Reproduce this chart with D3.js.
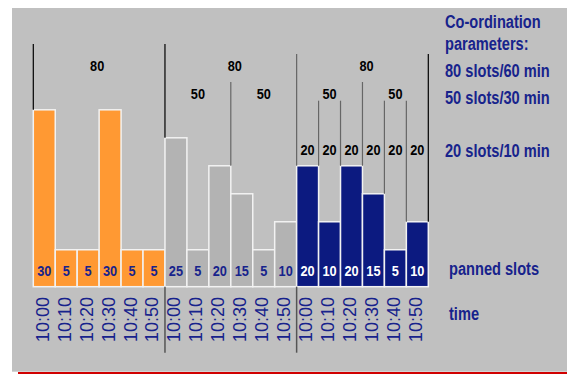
<!DOCTYPE html>
<html><head><meta charset="utf-8">
<script src="https://cdn.jsdelivr.net/npm/d3@7"></script>
<style>html,body{margin:0;padding:0;background:#fff;} svg{display:block}</style>
</head><body>
<svg id="c" width="567" height="374"></svg>
<script>
// ---- data ----
const times = ["10:00","10:10","10:20","10:30","10:40","10:50"];
const slotsA = [30,5,5,30,5,5];
const slotsB = [25,5,20,15,5,10];
const slotsC = [20,10,20,15,5,10];
const limit60 = "80", limit30 = "50", limit10 = "20";
const legendLines = ["Co-ordination","parameters:","80 slots/60 min","50 slots/30 min","20 slots/10 min"];
const rowLabels = ["panned slots","time"];

// ---- setup ----
const svg = d3.select("#c");
const FONT = "Arial, 'Liberation Sans', sans-serif";
const NAVY = "#17238c";
const groups = [slotsA, slotsB, slotsC];
const fills = ["#ff9933","#b3b3b3","#0c1a80"];
const labelFill = [NAVY, NAVY, "#ffffff"];
const data = groups.flatMap((vals,g)=>vals.map((v,i)=>({g,i,v,time:times[i],idx:g*6+i})));

svg.append("rect").attr("x",12).attr("y",8).attr("width",555).attr("height",363.7).attr("fill","#c0c0c0");
svg.append("rect").attr("x",18).attr("y",372).attr("width",549).attr("height",2.5).attr("fill","#d00000");

const x = d3.scaleBand().domain(d3.range(18)).range([33.3,428.3]).paddingInner(0);
const bw = x.bandwidth();
const y = d3.scaleLinear().domain([-1.6,30]).range([286.7,109.8]);
const base = y(-1.6);

// bars
svg.append("g").selectAll("rect").data(data).join("rect")
  .attr("x",d=>x(d.idx)).attr("y",d=>y(d.v))
  .attr("width",bw).attr("height",d=>base-y(d.v))
  .attr("fill",d=>fills[d.g]).attr("stroke","#f2f2f2").attr("stroke-width",1.5);

// window boundary lines
const bx = (g,k)=> x.range()[0] + (g*6+k)*bw;
const topAt = (g,k)=>{
  const tops=[];
  const li=g*6+k-1, ri=g*6+k;
  if(li>=0) tops.push(y(data[li].v));
  if(ri<18) tops.push(y(data[ri].v));
  return Math.min(...tops);
};
const markers = [
  {g:0,k:0,top:44,c:"#000"},{g:1,k:0,top:44,c:"#000"},
  {g:1,k:3,top:82,c:"#666"},
  {g:2,k:0,top:54,c:"#666"},{g:2,k:6,top:54,c:"#000"},
  {g:2,k:3,top:82,c:"#666"},
  {g:2,k:1,top:100.7,c:"#666"},{g:2,k:2,top:100.7,c:"#666"},
  {g:2,k:4,top:100.7,c:"#666"},{g:2,k:5,top:100.7,c:"#666"}
];
svg.append("g").selectAll("line").data(markers).join("line")
  .attr("x1",d=>bx(d.g,d.k)).attr("x2",d=>bx(d.g,d.k))
  .attr("y1",d=>d.top).attr("y2",d=>topAt(d.g,d.k))
  .attr("stroke",d=>d.c).attr("stroke-width",1.2);

// bottom separators
svg.append("g").selectAll("line").data([1,2]).join("line")
  .attr("x1",g=>bx(g,0)).attr("x2",g=>bx(g,0))
  .attr("y1",base).attr("y2",352.7)
  .attr("stroke","#555").attr("stroke-width",1.5);

// window labels
const wl = [];
[0,1,2].forEach(g=>wl.push({t:limit60, x:bx(g,3)+[-2,4,4][g], y:70.5}));
[1,2].forEach(g=>{wl.push({t:limit30,x:bx(g,1.5),y:98.5}); wl.push({t:limit30,x:bx(g,4.5),y:98.5});});
d3.range(6).forEach(k=>wl.push({t:limit10,x:bx(2,k+0.5),y:154.5}));
svg.append("g").selectAll("text").data(wl).join("text")
  .attr("transform",d=>`translate(${d.x},${d.y}) scale(0.85,1)`).attr("text-anchor","middle")
  .attr("font-family",FONT).attr("font-weight","bold").attr("font-size",15).attr("fill","#000")
  .text(d=>d.t);

// bar value labels
svg.append("g").selectAll("text").data(data).join("text")
  .attr("transform",d=>`translate(${x(d.idx)+bw/2},275.5) scale(0.88,1)`).attr("text-anchor","middle")
  .attr("font-family",FONT).attr("font-weight","bold").attr("font-size",14.5)
  .attr("fill",d=>labelFill[d.g]).text(d=>d.v);

// time labels
svg.append("g").selectAll("text").data(data).join("text")
  .attr("transform",d=>`translate(${x(d.idx)+bw/2+4.5},297) rotate(-90) scale(0.95,1)`)
  .attr("text-anchor","end")
  .attr("font-family",FONT).attr("font-size",19).attr("fill",NAVY)
  .text(d=>d.time);

// legend text
const legY = [28,50,77,104,156.5];
svg.append("g").selectAll("text").data(legendLines).join("text")
  .attr("transform",(d,i)=>`translate(445,${legY[i]}) scale(0.835,1)`)
  .attr("font-family",FONT).attr("font-weight","bold").attr("font-size",17.5).attr("fill",NAVY)
  .text(d=>d);
const rowY = [275,320];
svg.append("g").selectAll("text").data(rowLabels).join("text")
  .attr("transform",(d,i)=>`translate(449,${rowY[i]}) scale(0.835,1)`)
  .attr("font-family",FONT).attr("font-weight","bold").attr("font-size",17.5).attr("fill",NAVY)
  .text(d=>d);
</script>
</body></html>
